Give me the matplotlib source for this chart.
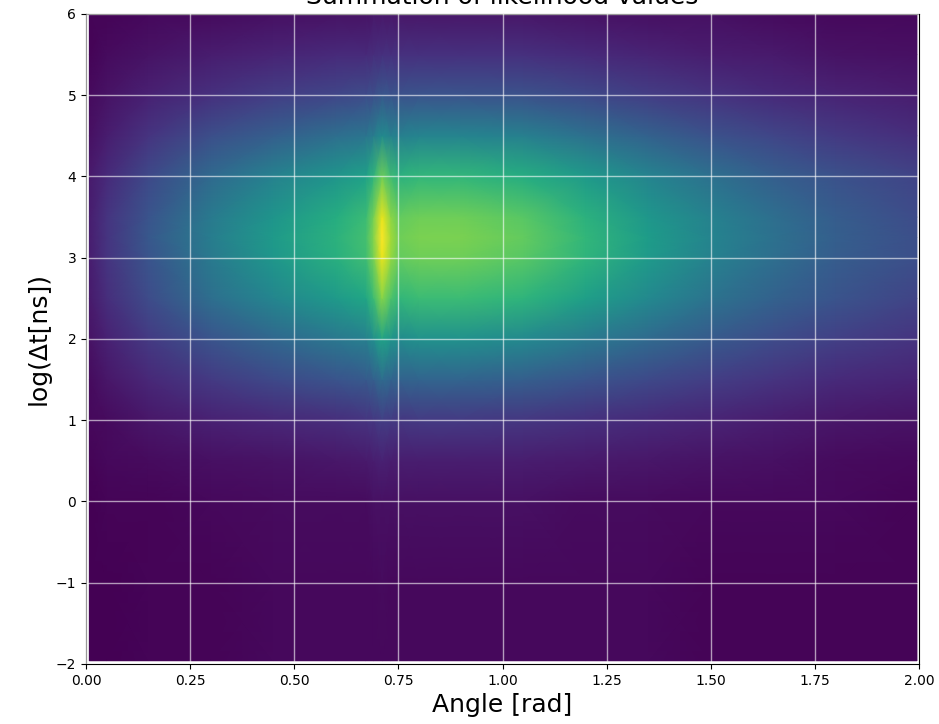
import numpy as np
import matplotlib
matplotlib.use("Agg")
import matplotlib.pyplot as plt

# Node positions of the likelihood map (angle in rad, log of time difference)
angle_nodes = [0.008, 0.05, 0.15, 0.3, 0.45, 0.6, 0.672, 0.69, 0.711, 0.732,
               0.752, 0.8, 0.9, 1.05, 1.2, 1.35, 1.5, 1.65, 1.8, 1.995]
logdt_nodes = [-1.96, -1.0, 0.0, 0.5, 1.0, 1.5, 2.0, 2.5, 3.0, 3.25,
               3.5, 4.0, 4.5, 5.0, 5.5, 6.0]

# Summed likelihood (normalised), one row per log(dt) node
likelihood = [
    [0.00, 0.00, 0.01, 0.01, 0.02, 0.02, 0.02, 0.02, 0.02, 0.02, 0.02, 0.02, 0.02, 0.02, 0.02, 0.02, 0.01, 0.01, 0.01, 0.01],
    [0.00, 0.00, 0.01, 0.01, 0.02, 0.02, 0.02, 0.02, 0.03, 0.02, 0.02, 0.02, 0.02, 0.02, 0.02, 0.02, 0.01, 0.01, 0.01, 0.01],
    [0.00, 0.01, 0.01, 0.02, 0.03, 0.03, 0.03, 0.04, 0.04, 0.04, 0.04, 0.04, 0.04, 0.04, 0.03, 0.03, 0.02, 0.02, 0.02, 0.01],
    [0.01, 0.02, 0.03, 0.04, 0.05, 0.06, 0.07, 0.08, 0.09, 0.08, 0.08, 0.08, 0.08, 0.08, 0.07, 0.06, 0.05, 0.04, 0.03, 0.02],
    [0.02, 0.03, 0.06, 0.09, 0.11, 0.13, 0.15, 0.16, 0.18, 0.17, 0.16, 0.17, 0.17, 0.16, 0.14, 0.12, 0.10, 0.08, 0.06, 0.05],
    [0.03, 0.06, 0.11, 0.17, 0.22, 0.26, 0.28, 0.30, 0.35, 0.32, 0.31, 0.32, 0.32, 0.30, 0.26, 0.22, 0.18, 0.15, 0.12, 0.10],
    [0.05, 0.09, 0.17, 0.26, 0.33, 0.40, 0.43, 0.49, 0.58, 0.52, 0.48, 0.50, 0.50, 0.47, 0.41, 0.34, 0.28, 0.23, 0.19, 0.15],
    [0.07, 0.13, 0.23, 0.36, 0.46, 0.54, 0.59, 0.68, 0.82, 0.72, 0.66, 0.68, 0.68, 0.65, 0.56, 0.47, 0.38, 0.31, 0.26, 0.20],
    [0.08, 0.15, 0.26, 0.41, 0.53, 0.63, 0.69, 0.79, 0.97, 0.84, 0.76, 0.78, 0.78, 0.74, 0.65, 0.54, 0.44, 0.36, 0.29, 0.24],
    [0.08, 0.15, 0.27, 0.42, 0.54, 0.64, 0.70, 0.81, 1.00, 0.86, 0.78, 0.80, 0.80, 0.76, 0.66, 0.55, 0.45, 0.37, 0.30, 0.24],
    [0.08, 0.15, 0.26, 0.41, 0.52, 0.62, 0.68, 0.79, 0.97, 0.83, 0.76, 0.78, 0.78, 0.74, 0.64, 0.53, 0.44, 0.36, 0.29, 0.23],
    [0.07, 0.12, 0.22, 0.34, 0.44, 0.52, 0.57, 0.65, 0.78, 0.69, 0.64, 0.66, 0.66, 0.62, 0.54, 0.45, 0.37, 0.30, 0.25, 0.20],
    [0.04, 0.08, 0.15, 0.24, 0.30, 0.36, 0.39, 0.42, 0.48, 0.44, 0.43, 0.45, 0.45, 0.43, 0.37, 0.31, 0.25, 0.21, 0.17, 0.13],
    [0.03, 0.05, 0.09, 0.14, 0.18, 0.21, 0.23, 0.24, 0.27, 0.26, 0.25, 0.26, 0.26, 0.25, 0.22, 0.18, 0.15, 0.12, 0.10, 0.08],
    [0.01, 0.03, 0.05, 0.08, 0.10, 0.12, 0.12, 0.13, 0.14, 0.14, 0.14, 0.14, 0.14, 0.14, 0.12, 0.10, 0.08, 0.07, 0.05, 0.04],
    [0.01, 0.01, 0.02, 0.03, 0.04, 0.05, 0.05, 0.06, 0.06, 0.06, 0.06, 0.06, 0.06, 0.06, 0.05, 0.04, 0.04, 0.03, 0.02, 0.02],
]

x_ticks = [0.00, 0.25, 0.50, 0.75, 1.00, 1.25, 1.50, 1.75, 2.00]
y_ticks = [-2, -1, 0, 1, 2, 3, 4, 5, 6]

fig = plt.figure(figsize=(9.39, 7.24), dpi=100)
ax = fig.add_axes([0.0916, 0.0829, 0.8871, 0.8978])

X, Y = np.meshgrid(angle_nodes, logdt_nodes)
ax.pcolormesh(X, Y, np.array(likelihood), cmap="viridis", shading="gouraud",
              vmin=0.0, vmax=1.0, zorder=1)

ax.set_xlim(0, 2)
ax.set_ylim(-2, 6)
ax.set_xticks(x_ticks)
ax.set_xticklabels([f"{v:.2f}" for v in x_ticks])
ax.set_yticks(y_ticks)
ax.set_yticklabels([f"{v}".replace("-", "\u2212") for v in y_ticks])
ax.tick_params(labelsize=10)

ax.set_axisbelow(False)
ax.grid(True, color="white", alpha=0.6, linewidth=1.0)

ax.set_xlabel("Angle [rad]", fontsize=18)
ax.set_ylabel("log(Δt[ns])", fontsize=18)
ax.set_title("Summation of likelihood values", fontsize=18, pad=7)

fig.savefig("out.png", dpi=100)
